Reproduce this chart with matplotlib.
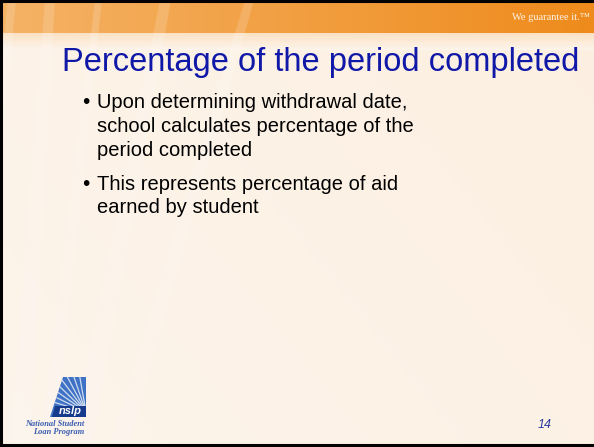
import numpy as np
import matplotlib.pyplot as plt
from matplotlib.patches import Polygon

W, H = 594, 447

TITLE = "Percentage of the period completed"
BULLETS = [
    ["Upon determining withdrawal date,",
     "school calculates percentage of the",
     "period completed"],
    ["This represents percentage of aid",
     "earned by student"],
]
TAGLINE = "We guarantee it.\u2122"
PAGE = "14"
LOGO_LINES = ["National Student", "Loan Program"]

BLUE = "#1018a8"

fig = plt.figure(figsize=(W / 100, H / 100), dpi=100)
ax = fig.add_axes([0, 0, 1, 1])
ax.set_xlim(0, W)
ax.set_ylim(H, 0)
ax.axis("off")

# fondo crema con ligero degradado
yy = np.linspace(0, 1, 200)[:, None]
xx = np.linspace(0, 1, 300)[None, :]
c0 = np.array([0.992, 0.958, 0.920])
c1 = np.array([0.990, 0.935, 0.875])
mix = (0.5 * xx + 0.3 * (1 - yy))[..., None]
bg = c0 * (1 - mix) + c1 * mix
ax.imshow(bg, extent=[0, W, H, 0], aspect="auto", zorder=0)

# banda naranja superior
band = np.linspace(0, 1, 300)[None, :, None]
o0 = np.array([0.960, 0.700, 0.400])
o1 = np.array([0.935, 0.545, 0.110])
ob = o0 * (1 - band) + o1 * band
ob = np.repeat(ob, 10, axis=0)
ax.imshow(ob, extent=[0, W, 33, 2], aspect="auto", zorder=1)

# transición bajo la banda
tr = np.linspace(0, 1, 20)[:, None, None]
t0 = np.array([0.985, 0.885, 0.770])
t1 = c0
tb = np.repeat(t0 * (1 - tr) + t1 * tr, 10, axis=1)
ax.imshow(tb, extent=[0, W, 50, 33], aspect="auto", zorder=1)

# rayas claras diagonales
streaks = [(-40, 8, 16), (10, 45, 20), (40, 95, 14), (70, 160, 22), (110, 245, 18)]
for xb, xt, w in streaks:
    ax.add_patch(Polygon([(xb, H), (xb + w, H), (xt + w * 0.5, 0), (xt, 0)],
                         closed=True, facecolor="white", alpha=0.16,
                         edgecolor="none", zorder=2))

# borde negro
ax.plot([1, 1], [0, H], color="black", lw=2.2, zorder=10)
ax.plot([0, W], [1, 1], color="black", lw=2.2, zorder=10)
ax.plot([0, W], [H - 2, H - 2], color="black", lw=2.2, zorder=10)

ax.text(590, 17, TAGLINE, ha="right", va="center", color="#fff4e6",
        fontsize=7.5, family="Liberation Serif", zorder=5)

ax.text(62, 62, TITLE, ha="left", va="center", color=BLUE,
        fontsize=23.5, family="Liberation Sans", zorder=5)

y = 103
for lines in BULLETS:
    ax.text(82, y, "\u2022", ha="left", va="center", color="black",
            fontsize=15, family="Liberation Sans", zorder=5)
    for ln in lines:
        ax.text(97, y, ln, ha="left", va="center", color="black",
                fontsize=14.5, family="Liberation Sans", zorder=5)
        y += 23.7
    y += 10

ax.text(552, 425, PAGE, ha="right", va="center", color="#2a38a0",
        fontsize=9, style="italic", family="Liberation Sans", zorder=5)

# logo nslp
sq = Polygon([(63, 377), (86, 377), (86, 417), (50, 417)], closed=True,
             facecolor="#3f72c4", edgecolor="none", zorder=5)
ax.add_patch(sq)
for k in range(8):
    a = np.deg2rad(100 + k * 9)
    ln, = ax.plot([86, 86 + 60 * np.cos(a)], [412, 412 - 60 * np.sin(a)],
                  color="white", lw=0.9, alpha=0.75, zorder=6)
    ln.set_clip_path(sq)
ax.add_patch(Polygon([(55, 406), (86, 406), (86, 417), (52, 417)], closed=True,
                     facecolor="#163a8c", edgecolor="none", zorder=7))
ax.text(70.5, 411.5, "nslp", ha="center", va="center", color="white",
        fontsize=8, fontweight="bold", style="italic", family="Liberation Sans", zorder=8)
ax.text(55, 424, LOGO_LINES[0], ha="center", va="center", color="#3a5cb0",
        fontsize=6, fontweight="bold", style="italic", family="Liberation Serif", zorder=8)
ax.text(59, 432.5, LOGO_LINES[1], ha="center", va="center", color="#3a5cb0",
        fontsize=6, fontweight="bold", style="italic", family="Liberation Serif", zorder=8)

fig.savefig("out.png", dpi=100)
